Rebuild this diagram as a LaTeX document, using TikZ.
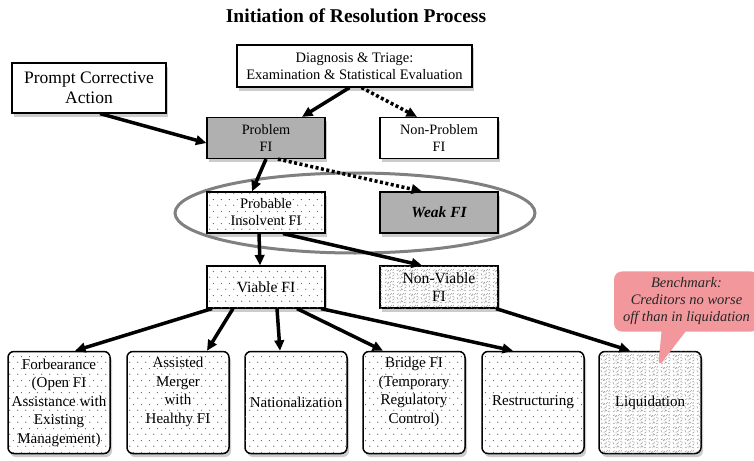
\documentclass[tikz,border=0pt]{standalone}
\usepackage{fontspec}
\setmainfont{Liberation Serif}
\usetikzlibrary{arrows.meta}
\usetikzlibrary{patterns}
\usetikzlibrary{shadows}
\usetikzlibrary{shapes.callouts}

\definecolor{boxgrey}{RGB}{176,176,176}
\definecolor{dotgrey}{RGB}{95,95,95}
\definecolor{scribgrey}{RGB}{140,140,140}
\definecolor{ringgrey}{RGB}{128,128,128}
\definecolor{notepink}{RGB}{242,152,156}

\pgfdeclarepatternformonly{sparse dots}{\pgfpointorigin}{\pgfqpoint{8pt}{12pt}}{\pgfqpoint{8pt}{12pt}}{%
  \pgfpathcircle{\pgfqpoint{2pt}{3pt}}{0.7pt}
  \pgfpathcircle{\pgfqpoint{6pt}{9pt}}{0.7pt}
  \pgfusepath{fill}}

\pgfdeclarepatternformonly{scribble}{\pgfpointorigin}{\pgfqpoint{12pt}{12pt}}{\pgfqpoint{12pt}{12pt}}{%
  \pgfsetlinewidth{0.45pt}
  \pgfpathmoveto{\pgfqpoint{1pt}{1pt}}\pgfpathlineto{\pgfqpoint{3.5pt}{2.5pt}}
  \pgfpathmoveto{\pgfqpoint{5pt}{1pt}}\pgfpathlineto{\pgfqpoint{6pt}{3.5pt}}\pgfpathlineto{\pgfqpoint{7.5pt}{2pt}}
  \pgfpathmoveto{\pgfqpoint{8.5pt}{2pt}}\pgfpathlineto{\pgfqpoint{11pt}{1pt}}
  \pgfpathmoveto{\pgfqpoint{9pt}{4pt}}\pgfpathlineto{\pgfqpoint{11pt}{5.5pt}}
  \pgfpathmoveto{\pgfqpoint{2pt}{5pt}}\pgfpathlineto{\pgfqpoint{1pt}{7.5pt}}
  \pgfpathmoveto{\pgfqpoint{4pt}{5pt}}\pgfpathlineto{\pgfqpoint{6.5pt}{6pt}}\pgfpathlineto{\pgfqpoint{7pt}{8pt}}
  \pgfpathmoveto{\pgfqpoint{9pt}{8.5pt}}\pgfpathlineto{\pgfqpoint{11.2pt}{7pt}}
  \pgfpathmoveto{\pgfqpoint{1pt}{10pt}}\pgfpathlineto{\pgfqpoint{3pt}{11pt}}
  \pgfpathmoveto{\pgfqpoint{3.5pt}{8.5pt}}\pgfpathlineto{\pgfqpoint{4.5pt}{10.5pt}}\pgfpathlineto{\pgfqpoint{5.5pt}{9pt}}
  \pgfpathmoveto{\pgfqpoint{6.5pt}{10pt}}\pgfpathlineto{\pgfqpoint{8.5pt}{11.5pt}}
  \pgfpathmoveto{\pgfqpoint{9.5pt}{10pt}}\pgfpathlineto{\pgfqpoint{10.5pt}{11.5pt}}
  \pgfusepath{stroke}}

\tikzset{
  box/.style={draw, line width=1.2pt, fill=white, align=center, inner sep=2pt,
    minimum width=118pt, minimum height=41pt,
    drop shadow={opacity=0.4, shadow xshift=2pt, shadow yshift=-3.5pt},
    font=\fontsize{14.3}{17}\selectfont},
  greybox/.style={box, fill=boxgrey},
  dotfill/.style={postaction={pattern=sparse dots, pattern color=dotgrey}},
  roughfill/.style={postaction={pattern=scribble, pattern color=scribgrey}},
  outcome/.style={box, rounded corners=6pt, line width=1.5pt,
    minimum width=102pt, minimum height=102pt,
    font=\fontsize{15}{18.5}\selectfont},
  arr/.style={line width=3.5pt, -{Triangle[length=10.5pt,width=9.5pt]}},
  dotarr/.style={arr, dash pattern=on 3pt off 2.5pt},
}

\begin{document}
\begin{tikzpicture}[x=1pt,y=-1pt]
  \useasboundingbox (0,0) rectangle (754,460);

  \node[font=\bfseries\fontsize{19.5}{22}\selectfont] (title) at (356,16) {Initiation of Resolution Process};

  % top row
  \node[box, minimum width=235pt, minimum height=42pt, font=\fontsize{14.5}{16.5}\selectfont] (diag) at (354.5,66)
    {Diagnosis \& Triage:\\Examination \& Statistical Evaluation};
  \node[box, minimum width=154pt, minimum height=50pt, font=\fontsize{17.5}{20.5}\selectfont] (pca) at (89,88)
    {Prompt Corrective\\Action};
  \node[greybox] (problem) at (266,138) {Problem\\FI};
  \node[box] (nonproblem) at (439,138) {Non-Problem\\FI};

  % ring round the middle row
  \draw[ringgrey, line width=3pt] (355,213) ellipse [x radius=180, y radius=40];

  \node[box, dotfill, font=\fontsize{14.6}{17}\selectfont] (probable) at (266,212.5) {Probable\\Insolvent FI};
  \node[greybox, font=\bfseries\itshape\fontsize{15.5}{18}\selectfont] (weak) at (439,212.5) {Weak FI};
  \node[box, dotfill, minimum height=42pt, font=\fontsize{15.6}{18}\selectfont] (viable) at (266,287) {Viable FI};
  \node[box, roughfill, minimum height=42pt, font=\fontsize{15.6}{18}\selectfont] (nonviable) at (439,287) {Non-Viable\\FI};

  % outcomes
  \node[outcome, dotfill] (forbear) at (59,402.5) {Forbearance\\(Open FI\\Assistance with\\Existing\\Management)};
  \node[outcome, dotfill] (merger) at (178,402.5) {Assisted\\Merger\\with\\Healthy FI\\\strut};
  \node[outcome, dotfill] (national) at (296,402.5) {Nationalization};
  \node[outcome, dotfill] (bridge) at (414,402.5) {Bridge FI\\(Temporary\\Regulatory\\Control)\\\strut};
  \node[outcome, dotfill] (restruct) at (533,402.5) {Restructuring};
  \node[outcome, roughfill] (liquid) at (650,402.5) {Liquidation};

  % arrows
  \draw[arr] ([xshift=-5pt]diag.south) -- ([xshift=36pt]problem.north);
  \draw[dotarr] ([xshift=7pt]diag.south) -- ([xshift=-22pt]nonproblem.north);
  \draw[arr] ([xshift=11pt]pca.south) -- ([yshift=-5pt]problem.west);
  \draw[arr] (problem.south) -- ([xshift=-14pt]probable.north);
  \draw[dotarr] ([xshift=12pt]problem.south) -- ([xshift=-17pt]weak.north);
  \draw[arr] ([xshift=-7pt]probable.south) -- ([xshift=-6pt]viable.north);
  \draw[arr] ([xshift=17pt]probable.south) -- ([xshift=-17pt]nonviable.north);
  \draw[arr] ([xshift=-54pt]viable.south) -- ([xshift=16pt]forbear.north);
  \draw[arr] ([xshift=-33pt]viable.south) -- ([xshift=29pt]merger.north);
  \draw[arr] ([xshift=11pt]viable.south) -- ([xshift=-16pt]national.north);
  \draw[arr] ([xshift=31pt]viable.south) -- ([xshift=-31pt]bridge.north);
  \draw[arr] ([xshift=55pt]viable.south) -- ([xshift=-20pt]restruct.north);
  \draw[arr] ([xshift=57pt]nonviable.south) -- ([xshift=-20pt]liquid.north);

  % benchmark note
  \node[rectangle callout, fill=notepink, rounded corners=8pt, align=center,
    inner xsep=9pt, inner ysep=6.5pt,
    callout absolute pointer={([xshift=8pt,yshift=35pt]liquid.center)}, callout pointer width=24pt,
    text=black!85, font=\itshape\fontsize{14.5}{17}\selectfont] (bench) at (686.5,301.5)
    {Benchmark:\\Creditors no worse\\off than in liquidation};
\end{tikzpicture}
\end{document}
